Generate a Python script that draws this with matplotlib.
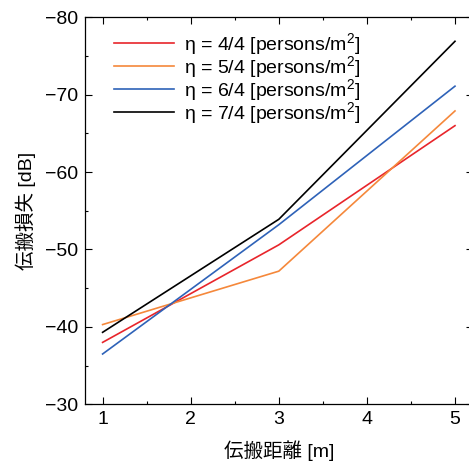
import numpy as np
import matplotlib.pyplot as plt
import matplotlib as mpl
from matplotlib.ticker import MultipleLocator

distance = [1, 3, 5]
loss_44 = [-38.0, -50.6, -66.0]
loss_54 = [-40.3, -47.2, -67.9]
loss_64 = [-36.5, -53.2, -71.1]
loss_74 = [-39.3, -53.9, -76.9]
labels = ['η = 4/4 [persons/m$^2$]', 'η = 5/4 [persons/m$^2$]',
          'η = 6/4 [persons/m$^2$]', 'η = 7/4 [persons/m$^2$]']
colors = ['#e8252b', '#f5883b', '#2e62b8', '#000000']

mpl.rcParams['font.family'] = ['Liberation Sans', 'Noto Sans CJK JP', 'DejaVu Sans']
mpl.rcParams['mathtext.fontset'] = 'custom'
mpl.rcParams['mathtext.rm'] = 'Liberation Sans'
mpl.rcParams['mathtext.it'] = 'Liberation Sans'
mpl.rcParams['font.size'] = 14

fig = plt.figure(figsize=(4.69, 4.66), dpi=100)
ax = fig.add_axes([0.1812, 0.1324, 0.8265, 0.8305])

for y, lab, c in zip([loss_44, loss_54, loss_64, loss_74], labels, colors):
    ax.plot(distance, y, color=c, lw=1.2, label=lab)

ax.set_xlim(0.8, 5.2)
ax.set_ylim(-30, -80)
ax.xaxis.set_major_locator(MultipleLocator(1))
ax.xaxis.set_minor_locator(MultipleLocator(0.5))
ax.yaxis.set_major_locator(MultipleLocator(10))
ax.yaxis.set_minor_locator(MultipleLocator(5))
ax.tick_params(which='both', direction='in', top=True, right=True, width=0.8)
ax.tick_params(which='major', length=5, pad=5)
ax.tick_params(which='minor', length=2.5)
for s in ax.spines.values():
    s.set_linewidth(0.9)

ax.set_xlabel('伝搬距離 [m]', fontsize=14, labelpad=9)
ax.set_ylabel('伝搬損失 [dB]', fontsize=14, labelpad=6)

ax.legend(loc='upper left', frameon=False, handlelength=3.1, handletextpad=0.5,
          labelspacing=-0.15, borderaxespad=0.3, bbox_to_anchor=(0.04, 1.0))

plt.savefig('out.png', dpi=100)
